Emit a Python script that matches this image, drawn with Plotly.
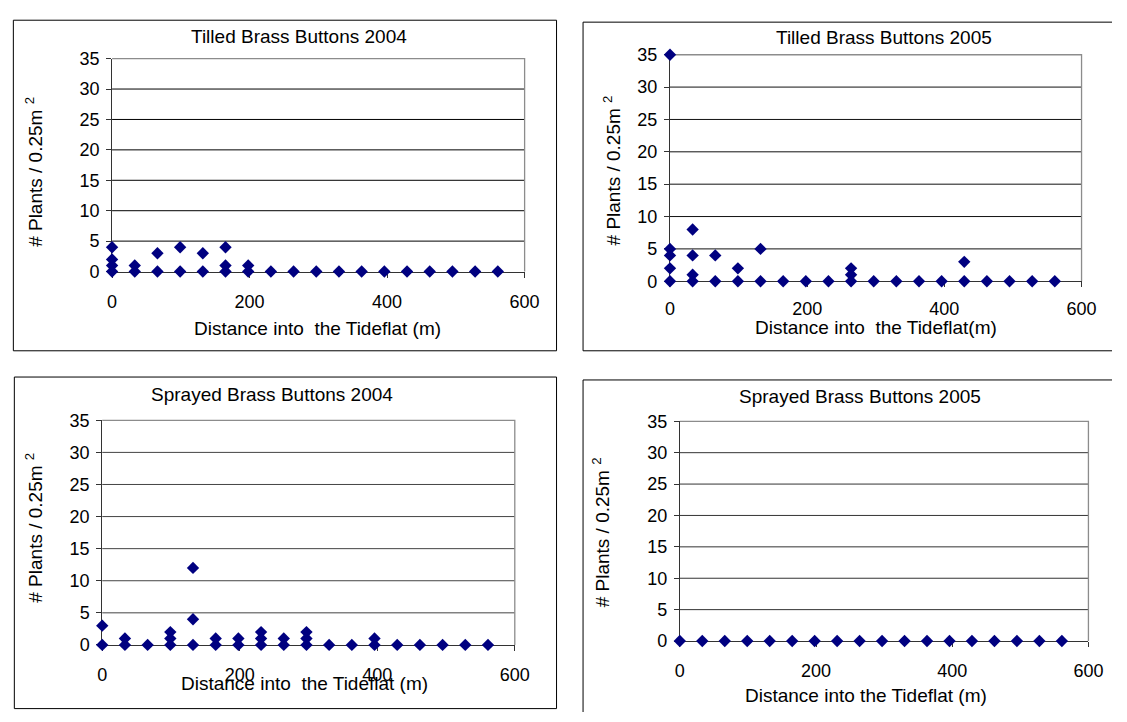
import plotly.graph_objects as go

# ---------------- data (distance in m, plants per 0.25 m^2) ----------------
tilled_2004_x = [0, 0, 0, 0, 33, 33, 66, 66, 99, 99, 132, 132, 165, 165, 165, 198, 198,
                 231, 264, 297, 330, 363, 396, 429, 462, 495, 528, 561]
tilled_2004_y = [0, 1, 2, 4, 0, 1, 0, 3, 0, 4, 0, 3, 0, 1, 4, 0, 1,
                 0, 0, 0, 0, 0, 0, 0, 0, 0, 0, 0]

tilled_2005_x = [0, 0, 0, 0, 0, 33, 33, 33, 33, 66, 66, 99, 99, 132, 132, 165, 198, 231,
                 264, 264, 264, 297, 330, 363, 396, 429, 429, 462, 495, 528, 561]
tilled_2005_y = [0, 2, 4, 5, 35, 0, 1, 4, 8, 0, 4, 0, 2, 0, 5, 0, 0, 0,
                 0, 1, 2, 0, 0, 0, 0, 0, 3, 0, 0, 0, 0]

sprayed_2004_x = [0, 0, 33, 33, 66, 99, 99, 99, 132, 132, 132, 165, 165, 198, 198,
                  231, 231, 231, 264, 264, 297, 297, 297, 330, 363, 396, 396,
                  429, 462, 495, 528, 561]
sprayed_2004_y = [0, 3, 0, 1, 0, 0, 1, 2, 0, 4, 12, 0, 1, 0, 1,
                  0, 1, 2, 0, 1, 0, 1, 2, 0, 0, 0, 1,
                  0, 0, 0, 0, 0]

sprayed_2005_x = [0, 33, 66, 99, 132, 165, 198, 231, 264, 297, 330, 363, 396, 429,
                  462, 495, 528, 561]
sprayed_2005_y = [0, 0, 0, 0, 0, 0, 0, 0, 0, 0, 0, 0, 0, 0, 0, 0, 0, 0]

panel_titles = ["Tilled Brass Buttons 2004", "Tilled Brass Buttons 2005",
                "Sprayed Brass Buttons 2004", "Sprayed Brass Buttons 2005"]
x_titles = ["Distance into\u00a0 the Tideflat (m)", "Distance into\u00a0 the Tideflat(m)",
            "Distance into\u00a0 the Tideflat (m)", "Distance into the Tideflat (m)"]
y_title = "# Plants / 0.25m <sup>2</sup>"
x_ticks = [0, 200, 400, 600]
y_ticks = [0, 5, 10, 15, 20, 25, 30, 35]
grid_vals = [5, 10, 15, 20, 25, 30]

# ---------------- layout geometry (page pixels) ----------------
W, H = 1127, 722
FONT = "Arial, Liberation Sans, sans-serif"
MARK = "#000080"

# box sides: (left, right, top, bottom); None = side runs off the picture (not drawn)
panels = [
    dict(xs=tilled_2004_x, ys=tilled_2004_y, plot=(109, 529, 50, 269),
         box=(8.5, 561.5, 10.5, 350.5), title=(299, 27), xt=(318, 328), yt=(30, 166),
         grid="#000000", xstand=9),
    dict(xs=tilled_2005_x, ys=tilled_2005_y, plot=(677, 1096, 46, 279),
         box=(588.5, None, 12.5, 350.5), title=(895, 28), xt=(887, 327), yt=(618, 165),
         grid="#111111", xstand=6),
    dict(xs=sprayed_2004_x, ys=sprayed_2004_y, plot=(99, 519, 422, 653),
         box=(9.5, 561.5, 377.5, 718.5), title=(272, 395), xt=(305, 693), yt=(30, 532),
         grid="#444444", xstand=8),
    dict(xs=sprayed_2005_x, ys=sprayed_2005_y, plot=(687, 1103, 423, 649),
         box=(588.5, None, 380.5, None), title=(870, 397), xt=(877, 705), yt=(607, 537),
         grid="#333333", xstand=8),
]


def px(x):
    return x / W


def py(y):
    return 1 - y / H


fig = go.Figure()
shapes = []
annotations = []


def seg(xa0, ya0, xa1, ya1):
    shapes.append(dict(type="line", xref="paper", yref="paper",
                       x0=px(xa0), y0=py(ya0), x1=px(xa1), y1=py(ya1),
                       line=dict(color="black", width=1), layer="below"))


for i, p in enumerate(panels):
    n = "" if i == 0 else str(i + 1)
    xa, ya = "x" + n, "y" + n
    x0, x1, y0, y1 = p["plot"]
    fig.add_trace(go.Scatter(
        x=p["xs"], y=p["ys"], mode="markers", xaxis=xa, yaxis=ya,
        marker=dict(symbol="diamond", size=9.5, color=MARK, line=dict(width=0)),
        cliponaxis=False, showlegend=False, hoverinfo="x+y"))
    common = dict(showgrid=False, zeroline=False, showline=True, linecolor="#333333",
                  linewidth=1, ticks="outside", ticklen=5, tickcolor="#333333",
                  layer="below traces",
                  tickfont=dict(family=FONT, size=18, color="black"))
    fig.update_layout(**{
        "xaxis" + n: dict(domain=[px(x0), px(x1)], range=[0, 600], tickvals=x_ticks,
                          anchor=ya, ticklabelstandoff=p["xstand"], **common),
        "yaxis" + n: dict(domain=[py(y1), py(y0)], range=[0, 35], tickvals=y_ticks,
                          anchor=xa, ticklabelstandoff=3, **common),
    })
    for v in grid_vals:
        shapes.append(dict(type="line", xref=xa + " domain", yref=ya, x0=0, x1=1, y0=v, y1=v,
                           line=dict(color=p["grid"], width=1), layer="below"))
    shapes.append(dict(type="path", xref=xa + " domain", yref=ya + " domain",
                       path="M 0 1 L 1 1 L 1 0", line=dict(color="#8c8c8c", width=1.3),
                       layer="below"))
    # outer chart box, kept inside the picture
    bl, br, bt, bb = p["box"]
    right = br if br is not None else W
    bottom = bb if bb is not None else H
    seg(bl, bt, right, bt)
    seg(bl, bt, bl, bottom)
    if br is not None:
        seg(br, bt, br, bottom)
    if bb is not None:
        seg(bl, bb, right, bb)
    annotations.append(dict(text=panel_titles[i], x=px(p["title"][0]), y=py(p["title"][1]),
                            xref="paper", yref="paper", showarrow=False,
                            xanchor="center", yanchor="middle",
                            font=dict(family=FONT, size=19, color="black")))
    annotations.append(dict(text=x_titles[i], x=px(p["xt"][0]), y=py(p["xt"][1]),
                            xref="paper", yref="paper", showarrow=False,
                            xanchor="center", yanchor="middle",
                            font=dict(family=FONT, size=19, color="black")))
    annotations.append(dict(text=y_title, x=px(p["yt"][0]), y=py(p["yt"][1]),
                            xref="paper", yref="paper", showarrow=False, textangle=-90,
                            xanchor="center", yanchor="middle",
                            font=dict(family=FONT, size=19, color="black")))

fig.update_layout(width=W, height=H, margin=dict(l=0, r=0, t=0, b=0),
                  paper_bgcolor="white", plot_bgcolor="white",
                  shapes=shapes, annotations=annotations, showlegend=False)

# place the figure flush with the page corner (no default body margin / scrollbars)
fig.write_html("out.html", config={"displayModeBar": False},
               post_script="document.body.style.margin='0';"
                           "document.body.style.overflow='hidden';")
